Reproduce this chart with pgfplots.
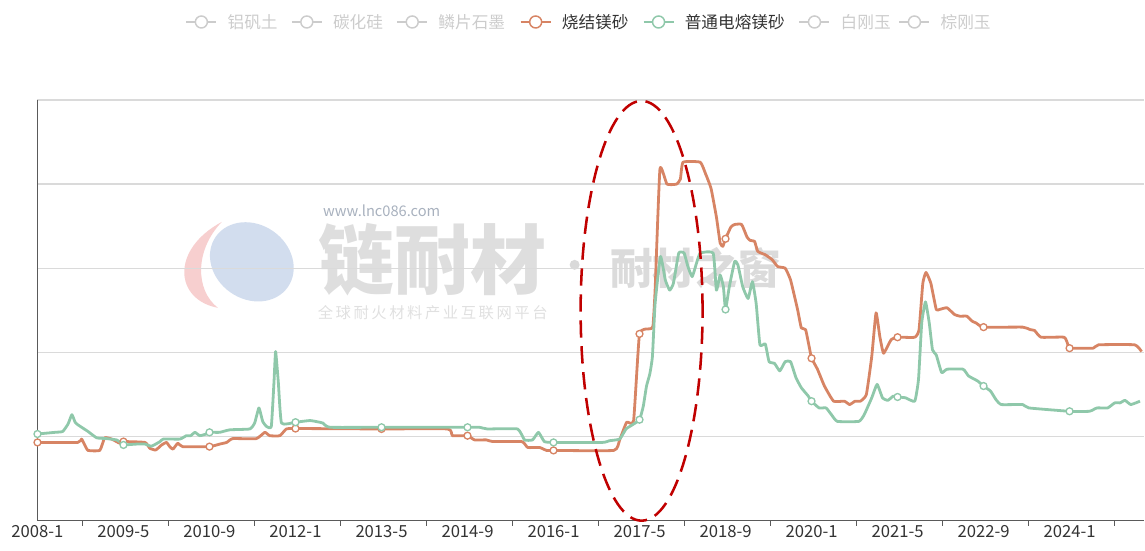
\documentclass[border=0pt]{standalone}
\usepackage{fontspec}
\setmainfont{Noto Sans CJK SC}
\usepackage{pgfplots}
\pgfplotsset{compat=1.18}

\definecolor{redl}{HTML}{D78464}
\definecolor{greenl}{HTML}{8FC8AA}
\definecolor{inact}{HTML}{CCCCCC}
\definecolor{labc}{HTML}{333333}
\definecolor{axc}{HTML}{5A5A5A}
\definecolor{gridc}{HTML}{DADADA}
\definecolor{dashred}{HTML}{C00000}
\definecolor{wmblue}{HTML}{D2DDEE}
\definecolor{wmpink}{HTML}{F7CFCF}

% legend entry: marker centre x (px), line colour, text colour, text
\newcommand\legitem[4]{%
  \draw[#2, line width=1.1pt] ({#1-15},22) -- ({#1+15},22);
  \draw[#2, line width=1.1pt, fill=white] (#1,22) circle (4.5pt);
  \node[anchor=west, text=#3, inner sep=0pt, font=\fontsize{12.5}{14}\selectfont] at ({#1+26},22) {#4};
}
% pixel frame of the reference: origin top left, 1px = 0.75pt
\tikzset{pxframe/.style={xshift=-28.125pt, yshift=390.75pt, x=0.75pt, y=-0.75pt}}

\begin{document}
\begin{tikzpicture}
\begin{scope}[pxframe]
  \useasboundingbox (0,0) rectangle (1145,551);
  % legend
  \legitem{201.5}{inact}{inact}{铝矾土}
  \legitem{307}{inact}{inact}{碳化硅}
  \legitem{412.5}{inact}{inact}{鳞片石墨}
  \legitem{536}{redl}{labc}{烧结镁砂}
  \legitem{659}{greenl}{labc}{普通电熔镁砂}
  \legitem{815}{inact}{inact}{白刚玉}
  \legitem{915}{inact}{inact}{棕刚玉}
  % watermark
  \fill[wmpink] (222,222) .. controls (170,250) and (175,300) .. (218,308)
                .. controls (195,290) and (195,250) .. cycle;
  \fill[wmblue, rotate around={-35:(252,262)}] (252,262) ellipse (33pt and 28pt);
  \node[text=black!13, font=\fontsize{57}{60}\selectfont\bfseries] at (433,260) {链耐材};
  \node[text=wmblue!80!black, font=\fontsize{11}{12}\selectfont] at (382,211) {www.lnc086.com};
  \node[text=black!12, font=\fontsize{11.5}{12}\selectfont] at (433,313) {全\,球\,耐\,火\,材\,料\,产\,业\,互\,联\,网\,平\,台};
  \node[text=black!14, font=\fontsize{32}{34}\selectfont\bfseries] at (696,268) {耐材之窗};
  \fill[black!15] (575,265) circle (3.75pt);
\end{scope}

\begin{axis}[
  at={(0,0)}, anchor=south west,
  scale only axis, width=830.625pt, height=315.75pt,
  xmin=0, xmax=205.9, ymin=0, ymax=5,
  axis lines*=left,
  axis line style={axc, line width=1pt},
  xtick={0,16,32,48,64,80,96,112,128,144,160,176,192},
  xticklabels={2008-1,2009-5,2010-9,2012-1,2013-5,2014-9,2016-1,2017-5,2018-9,2020-1,2021-5,2022-9,2024-1},
  x tick label style={font=\fontsize{12.5}{14}\selectfont, text=labc},
  major tick length=0pt,
  extra x ticks={8.4,24.4,40.4,56.4,72.4,88.4,104.4,120.4,136.4,152.4,168.4,184.4,200.4},
  extra x tick labels={},
  extra x tick style={major tick length=3.75pt, tick align=outside, grid=none,
    tick style={axc, line width=1pt}},
  ytick={1,2,3,4,5}, yticklabels={},
  ymajorgrids, grid style={gridc, line width=1.1pt},
  clip=false,
]
% 烧结镁砂
\addplot[redl, line width=2.1pt, smooth, tension=0.25, line join=round, no markers] coordinates {
(0,0.93)(7.5,0.93)(8.2,0.97)(8.8,0.90)(9.4,0.835)(11.6,0.835)(12.5,0.985)(13.8,0.97)
(15.3,0.92)(16,0.94)(20,0.93)(20.9,0.86)(22,0.84)(23.1,0.90)(24,0.93)(24.6,0.88)
(25.2,0.85)(26.1,0.92)(27,0.88)(32,0.88)(33.9,0.91)(35.2,0.93)(36.3,0.975)(40.7,0.975)
(42.3,1.05)(43.2,1.01)(45.1,1.01)(46.3,1.09)(48,1.095)(64,1.09)(76.3,1.09)(77.2,1.01)
(80,1.01)(81.3,0.96)(83.5,0.96)(84.7,0.94)(90.1,0.94)(91.2,0.87)(93.4,0.87)(94.7,0.835)
(96,0.835)(107.2,0.835)(108.3,0.96)(109.6,1.17)(110.9,1.19)(112,2.22)(113.9,2.28)
(114.5,2.31)(114.9,2.74)(115.8,4.18)(117.1,4.0)(118.9,4.0)(119.6,4.06)(120.1,4.26)
(123.3,4.26)(124.3,4.12)(125.3,3.95)(126.3,3.61)(127,3.30)(127.5,3.26)(128,3.35)
(129,3.49)(129.7,3.52)(131,3.52)(132,3.37)(132.6,3.33)(133.4,3.32)(134,3.20)(135.4,3.16)
(136.7,3.10)(137.7,3.02)(139.1,3.0)(140.1,2.86)(141.4,2.51)(142.1,2.29)(142.9,2.27)
(143.8,1.99)(144,1.93)(145.1,1.80)(146.4,1.60)(148.1,1.42)(150.1,1.42)(151.1,1.38)
(152.1,1.42)(153.1,1.42)(154.2,1.50)(155.2,1.95)(156,2.47)(156.7,2.19)(157.4,1.99)
(158.8,2.15)(160,2.18)(163.2,2.18)(164,2.27)(164.7,2.82)(165.3,2.95)(166.2,2.82)
(167.2,2.51)(167.8,2.51)(169.2,2.53)(170.6,2.45)(171.6,2.43)(172.9,2.43)(173.9,2.37)
(174.6,2.35)(176,2.30)(183.3,2.30)(184.7,2.27)(185.5,2.26)(186.7,2.18)(191,2.18)
(191.7,2.09)(192,2.05)(196.4,2.05)(197.4,2.09)(204.1,2.09)(205.4,2.01)
};
% 普通电熔镁砂
\addplot[greenl, line width=2.1pt, smooth, tension=0.25, line join=round, no markers] coordinates {
(0,1.03)(3.3,1.05)(4.7,1.06)(5.7,1.15)(6.4,1.26)(7,1.17)(7.5,1.14)(9.4,1.06)(11,0.985)
(12.9,0.975)(14.7,0.96)(15.7,0.92)(16,0.90)(18.4,0.91)(20,0.91)(21.2,0.885)(22.8,0.94)
(23.4,0.97)(26.5,0.97)(27.7,1.01)(28.5,1.01)(29.3,1.05)(30.2,1.01)(31.4,1.03)(32,1.05)
(33.9,1.05)(35.8,1.08)(39.5,1.09)(40.4,1.16)(41.2,1.34)(41.9,1.18)(42.6,1.12)(43.5,1.12)
(44,1.65)(44.3,2.01)(44.8,1.65)(45.4,1.16)(48,1.17)(50.7,1.19)(52.5,1.17)(53.1,1.16)
(54.4,1.11)(64,1.11)(80,1.11)(82.2,1.11)(83.7,1.09)(89.3,1.09)(90.6,0.96)(92.1,0.96)
(93.2,1.05)(94.3,0.94)(96,0.93)(105.1,0.93)(106.4,0.95)(108.3,0.97)(109.5,1.09)
(110.7,1.14)(112,1.20)(112.7,1.36)(113.3,1.60)(113.9,1.74)(114.4,1.95)(114.9,2.58)
(115.9,3.14)(116.8,2.86)(117.6,2.74)(118.3,2.82)(119.3,3.18)(120.3,3.18)(121,3.02)
(121.8,2.90)(122.6,3.06)(123.3,3.18)(125.7,3.18)(126.3,2.74)(127,2.92)(127.6,2.78)
(128,2.51)(128.7,2.78)(129.7,3.08)(130.3,3.04)(131.2,2.78)(132.2,2.64)(133,2.84)
(133.7,2.58)(134.4,2.09)(135.4,2.10)(136.1,1.89)(137.1,1.87)(138.1,1.78)(139.1,1.89)
(140.1,1.89)(141.1,1.70)(142.1,1.58)(143.4,1.48)(144,1.42)(145.4,1.34)(146.7,1.34)
(147.7,1.26)(148.8,1.18)(152.8,1.18)(153.8,1.26)(155.2,1.46)(156.2,1.62)(157.2,1.46)
(158.2,1.43)(159.2,1.48)(160,1.47)(161.5,1.46)(163.2,1.42)(163.9,1.68)(164.5,2.35)
(165.2,2.60)(165.9,2.35)(166.5,2.03)(167.2,1.97)(168.2,1.76)(169.2,1.80)(172.2,1.80)
(173.2,1.72)(174.9,1.66)(176,1.60)(177.3,1.54)(178.3,1.44)(179.3,1.38)(183.3,1.38)
(184.4,1.34)(192,1.30)(195.7,1.30)(197.1,1.34)(199.1,1.34)(200.4,1.40)(201.4,1.40)
(202.3,1.43)(203.4,1.38)(205.1,1.42)
};
% symbols shown at the labelled dates
\addplot[only marks, mark=*, mark size=2.6pt, mark options={draw=redl, fill=white, line width=1pt}] coordinates {
(0,0.93)(16,0.94)(32,0.88)(48,1.095)(64,1.09)(80,1.01)(96,0.835)(112,2.22)(128,3.35)
(144,1.93)(160,2.18)(176,2.30)(192,2.05)
};
\addplot[only marks, mark=*, mark size=2.6pt, mark options={draw=greenl, fill=white, line width=1pt}] coordinates {
(0,1.03)(16,0.90)(32,1.05)(48,1.17)(64,1.11)(80,1.11)(96,0.93)(112,1.20)(128,2.51)
(144,1.42)(160,1.47)(176,1.60)(192,1.30)
};
\end{axis}

\begin{scope}[pxframe]
  \draw[dashred, line width=1.9pt, dash pattern=on 13pt off 6.5pt] (642,311) ellipse [x radius=45.75pt, y radius=157.5pt];
\end{scope}
\end{tikzpicture}
\end{document}
